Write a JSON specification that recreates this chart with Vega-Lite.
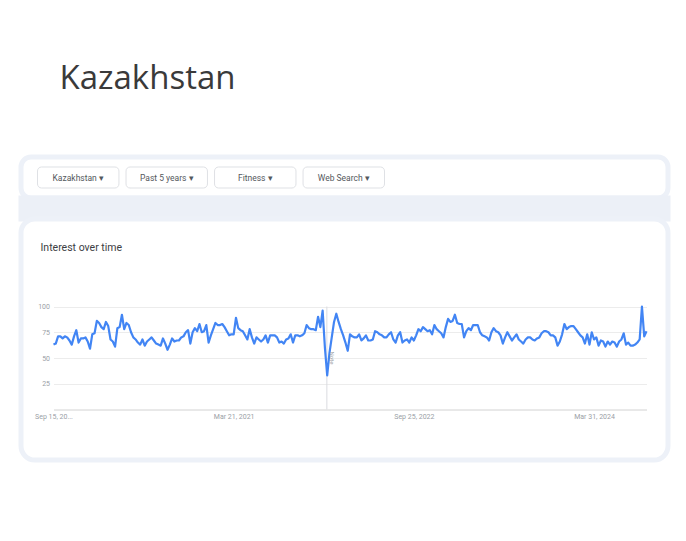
{
  "$schema": "https://vega.github.io/schema/vega-lite/v6.json",
  "background": "white",
  "padding": {"left": 18, "top": 62, "right": 5, "bottom": 5},
  "title": {"text": "Kazakhstan", "anchor": "start", "dx": 41, "fontSize": 33, "font": "Open Sans", "fontWeight": "normal", "color": "#3a3a3a", "offset": 59},
  "spacing": 0,
  "bounds": "flush",
  "config": {"view": {"stroke": null}, "font": "Roboto"},
  "datasets": {
    "filters": [
      {"label": "Kazakhstan  ▾"},
      {"label": "Past 5 years  ▾"},
      {"label": "Fitness  ▾"},
      {"label": "Web Search  ▾"}
    ],
    "trend": [
      {"date": "2019-09-15", "value": 63}, {"date": "2019-09-22", "value": 64}, {"date": "2019-09-29", "value": 71}, {"date": "2019-10-06", "value": 71},
      {"date": "2019-10-13", "value": 69}, {"date": "2019-10-20", "value": 71}, {"date": "2019-10-27", "value": 70}, {"date": "2019-11-03", "value": 67},
      {"date": "2019-11-10", "value": 63}, {"date": "2019-11-17", "value": 71}, {"date": "2019-11-24", "value": 77}, {"date": "2019-12-01", "value": 65},
      {"date": "2019-12-08", "value": 69}, {"date": "2019-12-15", "value": 69}, {"date": "2019-12-22", "value": 70}, {"date": "2019-12-29", "value": 66},
      {"date": "2020-01-05", "value": 59}, {"date": "2020-01-12", "value": 73}, {"date": "2020-01-19", "value": 74}, {"date": "2020-01-26", "value": 86},
      {"date": "2020-02-02", "value": 84}, {"date": "2020-02-09", "value": 80}, {"date": "2020-02-16", "value": 78}, {"date": "2020-02-23", "value": 85},
      {"date": "2020-03-01", "value": 81}, {"date": "2020-03-08", "value": 68}, {"date": "2020-03-15", "value": 66}, {"date": "2020-03-22", "value": 61},
      {"date": "2020-03-29", "value": 79}, {"date": "2020-04-05", "value": 80}, {"date": "2020-04-12", "value": 92}, {"date": "2020-04-19", "value": 78},
      {"date": "2020-04-26", "value": 84}, {"date": "2020-05-03", "value": 82}, {"date": "2020-05-10", "value": 75}, {"date": "2020-05-17", "value": 70},
      {"date": "2020-05-24", "value": 68}, {"date": "2020-05-31", "value": 65}, {"date": "2020-06-07", "value": 63}, {"date": "2020-06-14", "value": 68},
      {"date": "2020-06-21", "value": 62}, {"date": "2020-06-28", "value": 66}, {"date": "2020-07-05", "value": 68}, {"date": "2020-07-12", "value": 70},
      {"date": "2020-07-19", "value": 67}, {"date": "2020-07-26", "value": 64}, {"date": "2020-08-02", "value": 63}, {"date": "2020-08-09", "value": 62},
      {"date": "2020-08-16", "value": 69}, {"date": "2020-08-23", "value": 64}, {"date": "2020-08-30", "value": 58}, {"date": "2020-09-06", "value": 63},
      {"date": "2020-09-13", "value": 69}, {"date": "2020-09-20", "value": 66}, {"date": "2020-09-27", "value": 67}, {"date": "2020-10-04", "value": 67},
      {"date": "2020-10-11", "value": 70}, {"date": "2020-10-18", "value": 71}, {"date": "2020-10-25", "value": 75}, {"date": "2020-11-01", "value": 77},
      {"date": "2020-11-08", "value": 64}, {"date": "2020-11-15", "value": 75}, {"date": "2020-11-22", "value": 79}, {"date": "2020-11-29", "value": 76},
      {"date": "2020-12-06", "value": 83}, {"date": "2020-12-13", "value": 75}, {"date": "2020-12-20", "value": 76}, {"date": "2020-12-27", "value": 82},
      {"date": "2021-01-03", "value": 65}, {"date": "2021-01-10", "value": 72}, {"date": "2021-01-17", "value": 78}, {"date": "2021-01-24", "value": 84},
      {"date": "2021-01-31", "value": 82}, {"date": "2021-02-07", "value": 82}, {"date": "2021-02-14", "value": 83}, {"date": "2021-02-21", "value": 80},
      {"date": "2021-02-28", "value": 76}, {"date": "2021-03-07", "value": 72}, {"date": "2021-03-14", "value": 73}, {"date": "2021-03-21", "value": 73},
      {"date": "2021-03-28", "value": 89}, {"date": "2021-04-04", "value": 79}, {"date": "2021-04-11", "value": 77}, {"date": "2021-04-18", "value": 76},
      {"date": "2021-04-25", "value": 72}, {"date": "2021-05-02", "value": 68}, {"date": "2021-05-09", "value": 78}, {"date": "2021-05-16", "value": 70},
      {"date": "2021-05-23", "value": 64}, {"date": "2021-05-30", "value": 70}, {"date": "2021-06-06", "value": 68}, {"date": "2021-06-13", "value": 66},
      {"date": "2021-06-20", "value": 68}, {"date": "2021-06-27", "value": 72}, {"date": "2021-07-04", "value": 65}, {"date": "2021-07-11", "value": 72},
      {"date": "2021-07-18", "value": 72}, {"date": "2021-07-25", "value": 72}, {"date": "2021-08-01", "value": 70}, {"date": "2021-08-08", "value": 65},
      {"date": "2021-08-15", "value": 66}, {"date": "2021-08-22", "value": 64}, {"date": "2021-08-29", "value": 68}, {"date": "2021-09-05", "value": 69},
      {"date": "2021-09-12", "value": 73}, {"date": "2021-09-19", "value": 65}, {"date": "2021-09-26", "value": 72}, {"date": "2021-10-03", "value": 72},
      {"date": "2021-10-10", "value": 71}, {"date": "2021-10-17", "value": 72}, {"date": "2021-10-24", "value": 74}, {"date": "2021-10-31", "value": 82},
      {"date": "2021-11-07", "value": 79}, {"date": "2021-11-14", "value": 78}, {"date": "2021-11-21", "value": 78}, {"date": "2021-11-28", "value": 77},
      {"date": "2021-12-05", "value": 90}, {"date": "2021-12-12", "value": 80}, {"date": "2021-12-19", "value": 96}, {"date": "2021-12-26", "value": 60},
      {"date": "2022-01-02", "value": 33}, {"date": "2022-01-09", "value": 55}, {"date": "2022-01-16", "value": 70}, {"date": "2022-01-23", "value": 85},
      {"date": "2022-01-30", "value": 93}, {"date": "2022-02-06", "value": 85}, {"date": "2022-02-13", "value": 78}, {"date": "2022-02-20", "value": 72},
      {"date": "2022-02-27", "value": 65}, {"date": "2022-03-06", "value": 57}, {"date": "2022-03-13", "value": 73}, {"date": "2022-03-20", "value": 71},
      {"date": "2022-03-27", "value": 70}, {"date": "2022-04-03", "value": 70}, {"date": "2022-04-10", "value": 73}, {"date": "2022-04-17", "value": 67},
      {"date": "2022-04-24", "value": 69}, {"date": "2022-05-01", "value": 72}, {"date": "2022-05-08", "value": 67}, {"date": "2022-05-15", "value": 67},
      {"date": "2022-05-22", "value": 68}, {"date": "2022-05-29", "value": 76}, {"date": "2022-06-05", "value": 75}, {"date": "2022-06-12", "value": 73},
      {"date": "2022-06-19", "value": 72}, {"date": "2022-06-26", "value": 70}, {"date": "2022-07-03", "value": 70}, {"date": "2022-07-10", "value": 73},
      {"date": "2022-07-17", "value": 75}, {"date": "2022-07-24", "value": 68}, {"date": "2022-07-31", "value": 65}, {"date": "2022-08-07", "value": 72},
      {"date": "2022-08-14", "value": 75}, {"date": "2022-08-21", "value": 65}, {"date": "2022-08-28", "value": 67}, {"date": "2022-09-04", "value": 68},
      {"date": "2022-09-11", "value": 65}, {"date": "2022-09-18", "value": 70}, {"date": "2022-09-25", "value": 67}, {"date": "2022-10-02", "value": 72},
      {"date": "2022-10-09", "value": 78}, {"date": "2022-10-16", "value": 76}, {"date": "2022-10-23", "value": 80}, {"date": "2022-10-30", "value": 78},
      {"date": "2022-11-06", "value": 76}, {"date": "2022-11-13", "value": 77}, {"date": "2022-11-20", "value": 73}, {"date": "2022-11-27", "value": 82},
      {"date": "2022-12-04", "value": 78}, {"date": "2022-12-11", "value": 76}, {"date": "2022-12-18", "value": 74}, {"date": "2022-12-25", "value": 70},
      {"date": "2023-01-01", "value": 80}, {"date": "2023-01-08", "value": 88}, {"date": "2023-01-15", "value": 85}, {"date": "2023-01-22", "value": 86},
      {"date": "2023-01-29", "value": 92}, {"date": "2023-02-05", "value": 84}, {"date": "2023-02-12", "value": 83}, {"date": "2023-02-19", "value": 83},
      {"date": "2023-02-26", "value": 70}, {"date": "2023-03-05", "value": 76}, {"date": "2023-03-12", "value": 79}, {"date": "2023-03-19", "value": 77},
      {"date": "2023-03-26", "value": 82}, {"date": "2023-04-02", "value": 82}, {"date": "2023-04-09", "value": 82}, {"date": "2023-04-16", "value": 75},
      {"date": "2023-04-23", "value": 72}, {"date": "2023-04-30", "value": 71}, {"date": "2023-05-07", "value": 70}, {"date": "2023-05-14", "value": 67},
      {"date": "2023-05-21", "value": 75}, {"date": "2023-05-28", "value": 79}, {"date": "2023-06-04", "value": 76}, {"date": "2023-06-11", "value": 75},
      {"date": "2023-06-18", "value": 72}, {"date": "2023-06-25", "value": 64}, {"date": "2023-07-02", "value": 70}, {"date": "2023-07-09", "value": 75},
      {"date": "2023-07-16", "value": 71}, {"date": "2023-07-23", "value": 67}, {"date": "2023-07-30", "value": 70}, {"date": "2023-08-06", "value": 73},
      {"date": "2023-08-13", "value": 68}, {"date": "2023-08-20", "value": 66}, {"date": "2023-08-27", "value": 64}, {"date": "2023-09-03", "value": 68},
      {"date": "2023-09-10", "value": 70}, {"date": "2023-09-17", "value": 70}, {"date": "2023-09-24", "value": 68}, {"date": "2023-10-01", "value": 67},
      {"date": "2023-10-08", "value": 69}, {"date": "2023-10-15", "value": 70}, {"date": "2023-10-22", "value": 74}, {"date": "2023-10-29", "value": 76},
      {"date": "2023-11-05", "value": 76}, {"date": "2023-11-12", "value": 75}, {"date": "2023-11-19", "value": 72}, {"date": "2023-11-26", "value": 72},
      {"date": "2023-12-03", "value": 70}, {"date": "2023-12-10", "value": 62}, {"date": "2023-12-17", "value": 66}, {"date": "2023-12-24", "value": 73},
      {"date": "2023-12-31", "value": 83}, {"date": "2024-01-07", "value": 78}, {"date": "2024-01-14", "value": 80}, {"date": "2024-01-21", "value": 81},
      {"date": "2024-01-28", "value": 81}, {"date": "2024-02-04", "value": 78}, {"date": "2024-02-11", "value": 75}, {"date": "2024-02-18", "value": 72},
      {"date": "2024-02-25", "value": 70}, {"date": "2024-03-03", "value": 64}, {"date": "2024-03-10", "value": 73}, {"date": "2024-03-17", "value": 63},
      {"date": "2024-03-24", "value": 75}, {"date": "2024-03-31", "value": 68}, {"date": "2024-04-07", "value": 70}, {"date": "2024-04-14", "value": 62},
      {"date": "2024-04-21", "value": 67}, {"date": "2024-04-28", "value": 66}, {"date": "2024-05-05", "value": 61}, {"date": "2024-05-12", "value": 66},
      {"date": "2024-05-19", "value": 63}, {"date": "2024-05-26", "value": 66}, {"date": "2024-06-02", "value": 65}, {"date": "2024-06-09", "value": 61},
      {"date": "2024-06-16", "value": 66}, {"date": "2024-06-23", "value": 68}, {"date": "2024-06-30", "value": 74}, {"date": "2024-07-07", "value": 63},
      {"date": "2024-07-14", "value": 65}, {"date": "2024-07-21", "value": 62}, {"date": "2024-07-28", "value": 62}, {"date": "2024-08-04", "value": 63},
      {"date": "2024-08-11", "value": 65}, {"date": "2024-08-18", "value": 68}, {"date": "2024-08-25", "value": 100}, {"date": "2024-09-01", "value": 71},
      {"date": "2024-09-08", "value": 76}
    ]
  },
  "vconcat": [
    {
      "width": 647,
      "height": 41,
      "view": {"fill": "#ffffff", "stroke": "#edf1f8", "strokeWidth": 5, "cornerRadius": 10},
      "data": {"name": "filters"},
      "encoding": {
        "x": {"field": "label", "type": "nominal", "sort": null, "scale": {"type": "band", "range": [16.5, 363.5], "paddingInner": 0.08, "paddingOuter": 0}, "axis": null},
        "y": {"datum": "f", "type": "nominal", "scale": {"type": "band", "paddingOuter": 0.476, "paddingInner": 0}, "axis": null}
      },
      "layer": [
        {"mark": {"type": "rect", "fill": "#ffffff", "stroke": "#dfe1e5", "strokeWidth": 1, "cornerRadius": 4}},
        {"mark": {"type": "text", "fontSize": 8.5, "color": "#54585d", "font": "Roboto", "baseline": "middle"}, "encoding": {"text": {"field": "label"}}}
      ]
    },
    {
      "width": 647,
      "height": 21,
      "view": {"fill": "#ecf0f7", "stroke": "#ecf0f7", "strokeWidth": 5},
      "data": {"values": []},
      "mark": "point"
    },
    {
      "width": 647,
      "height": 241,
      "view": {"fill": "#ffffff", "stroke": "#edf1f8", "strokeWidth": 5, "cornerRadius": 14},
      "title": {"text": "Interest over time", "anchor": "start", "dx": 19.5, "offset": -34, "fontSize": 10.5, "font": "Roboto", "fontWeight": "normal", "color": "#3c4043"},
      "layer": [
        {
          "data": {"values": [{"note": "Note"}]},
          "mark": {"type": "rule", "color": "#dadce0", "strokeWidth": 1},
          "encoding": {
            "x": {"datum": {"year": 2022, "month": 1, "date": 1, "utc": true}, "type": "temporal"},
            "y": {"datum": 0, "type": "quantitative"},
            "y2": {"datum": 100}
          }
        },
        {
          "data": {"name": "trend"},
          "mark": {"type": "line", "color": "#4285f4", "strokeWidth": 2.2, "strokeJoin": "round"},
          "encoding": {
            "x": {
              "field": "date", "type": "temporal",
              "scale": {"domain": [{"year": 2019, "month": 9, "date": 15, "utc": true}, {"year": 2024, "month": 9, "date": 8, "utc": true}], "range": [32.5, 625.5]},
              "axis": {
                "values": [{"year": 2019, "month": 9, "date": 15, "utc": true}, {"year": 2021, "month": 3, "date": 21, "utc": true}, {"year": 2022, "month": 9, "date": 25, "utc": true}, {"year": 2024, "month": 3, "date": 31, "utc": true}],
                "labelExpr": "utcyear(datum.value) == 2019 ? 'Sep 15, 20...' : utcFormat(datum.value, '%b %d, %Y')",
                "title": null, "grid": false, "ticks": false,
                "domainColor": "#d2d2d2", "domainWidth": 1,
                "labelFontSize": 7, "labelColor": "#9aa0a6", "labelFont": "Roboto", "labelPadding": 3,
                "labelFlush": false, "labelOverlap": false, "offset": -50.5
              }
            },
            "y": {
              "field": "value", "type": "quantitative",
              "scale": {"domain": [0, 100], "range": [190.5, 87.5], "nice": false, "zero": false},
              "axis": {
                "values": [25, 50, 75, 100], "title": null, "domain": false, "ticks": false,
                "grid": true, "gridColor": "#ececec", "gridWidth": 1,
                "labelFontSize": 7, "labelColor": "#9aa0a6", "labelFont": "Roboto", "labelPadding": 4, "offset": -32.5
              }
            }
          }
        },
        {
          "data": {"values": [{"note": "Note"}]},
          "mark": {"type": "text", "angle": 90, "fontSize": 6, "color": "#a0a4a8", "dy": -5},
          "encoding": {
            "text": {"field": "note"},
            "x": {"datum": {"year": 2022, "month": 1, "date": 1, "utc": true}, "type": "temporal"},
            "y": {"datum": 50, "type": "quantitative"}
          }
        }
      ]
    }
  ]
}
